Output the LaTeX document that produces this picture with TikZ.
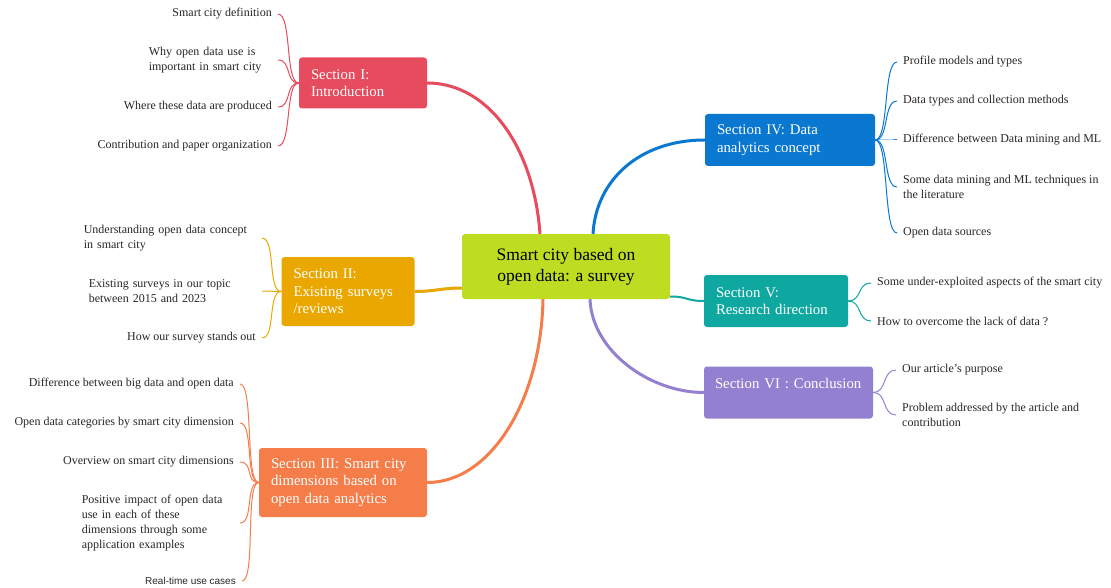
\documentclass[tikz,border=0pt]{standalone}
\usepackage{fontspec}
\setmainfont{Liberation Serif}
\newfontfamily\leafsans{Liberation Sans}

\definecolor{hubcolor}{HTML}{BEDD22}
\definecolor{introcolor}{HTML}{E64B5E}
\definecolor{surveycolor}{HTML}{E9A700}
\definecolor{dimcolor}{HTML}{F47D4A}
\definecolor{analyticscolor}{HTML}{0A77D0}
\definecolor{researchcolor}{HTML}{0FA8A0}
\definecolor{conclusioncolor}{HTML}{9480D1}

\begin{document}
\begin{tikzpicture}[x=1pt, y=-1pt,
  secbox/.style={fill=#1, rounded corners=3pt, text=white, align=left,
    font=\fontsize{14.8}{17.5}\selectfont, inner xsep=12pt, inner ysep=0pt},
  leaf/.style={text=black!85, font=\fontsize{12}{15}\selectfont,
    inner xsep=6pt, inner ysep=1pt, align=left},
  trunk/.style={draw=#1, line width=3pt},
  twig/.style={draw=#1, line width=1pt}]

  \useasboundingbox (0,0) rectangle (1111,588);

  % Central topic
  \node[fill=hubcolor, rounded corners=3pt, minimum width=208pt, minimum height=65pt,
    align=center, text=black, font=\fontsize{17.5}{21}\selectfont] (hub) at (566,266.5)
    {Smart city based on\\open data: a survey};

  % Section boxes
  \node[secbox=introcolor, text width=104pt, minimum height=51pt] (intro) at (363,83)
    {Section I:\\Introduction};
  \node[secbox=surveycolor, text width=109pt, minimum height=69pt] (survey) at (348,291.5)
    {Section II:\\Existing surveys\\/reviews};
  \node[secbox=dimcolor, text width=144pt, minimum height=69pt] (dim) at (343,482.5)
    {Section III: Smart city\\dimensions based on\\open data analytics};
  \node[secbox=analyticscolor, text width=146pt, minimum height=52pt] (analytics) at (790,140)
    {Section IV: Data\\analytics concept};
  \node[secbox=researchcolor, text width=120pt, minimum height=52pt] (research) at (776,301)
    {Section V:\\Research direction};
  \node[secbox=conclusioncolor, inner xsep=11pt, text width=147pt, minimum height=52pt] (conclusion) at (788.5,392.5)
    {Section VI : Conclusion\\\mbox{}};

  % Trunks from the central topic to each section
  \draw[trunk=introcolor] ([xshift=-26pt]hub.north) .. controls +(-6,-85) and +(62,0) .. (intro.east);
  \draw[trunk=surveycolor] ([yshift=-21.5pt]hub.west) .. controls +(-20,0) and +(20,0) .. (survey.east);
  \draw[trunk=dimcolor] ([xshift=-23pt]hub.south) .. controls +(-2,102) and +(63,0) .. (dim.east);
  \draw[trunk=analyticscolor] ([xshift=27pt]hub.north) .. controls +(3,-54) and +(-65,0) .. (analytics.west);
  \draw[trunk=researchcolor, line width=2pt] ([yshift=-30pt]hub.east) .. controls +(18,0) and +(-18,0) .. (research.west);
  \draw[trunk=conclusioncolor] ([xshift=24pt]hub.south) .. controls +(2,52) and +(-54,0) .. (conclusion.west);

  % Section I leaves
  \node[leaf, anchor=east] (intro1) at (278,14) {Smart city definition};
  \node[leaf, anchor=east, text width=123pt] (intro2) at (278,60) {Why open data use is\\important in smart city};
  \node[leaf, anchor=east] (intro3) at (278,107) {Where these data are produced};
  \node[leaf, anchor=east] (intro4) at (278,146) {Contribution and paper organization};

  % Section II leaves
  \node[leaf, anchor=east, text width=172pt] (survey1) at (262,238) {Understanding open data concept\\in smart city};
  \node[leaf, anchor=east, text width=167pt] (survey2) at (262,291) {Existing surveys in our topic\\between 2015 and 2023};
  \node[leaf, anchor=east] (survey3) at (262,338) {How our survey stands out};

  % Section III leaves
  \node[leaf, anchor=east] (dim1) at (240,384) {Difference between big data and open data};
  \node[leaf, anchor=east] (dim2) at (240,423) {Open data categories by smart city dimension};
  \node[leaf, anchor=east] (dim3) at (240,462) {Overview on smart city dimensions};
  \node[leaf, anchor=east, text width=152pt] (dim4) at (240,523)
    {Positive impact of open data\\use in each of these\\dimensions through some\\application examples};
  \node[leaf, anchor=east, font=\leafsans\fontsize{10}{12}\selectfont] (dim5) at (242,581) {Real-time use cases};

  % Section IV leaves
  \node[leaf, anchor=west] (analytics1) at (897,62) {Profile models and types};
  \node[leaf, anchor=west] (analytics2) at (897,101) {Data types and collection methods};
  \node[leaf, anchor=west] (analytics3) at (897,140) {Difference between Data mining and ML};
  \node[leaf, anchor=west] (analytics4) at (897,187) {Some data mining and ML techniques in\\the literature};
  \node[leaf, anchor=west] (analytics5) at (897,233) {Open data sources};

  % Section V leaves
  \node[leaf, anchor=west] (research1) at (871,283) {Some under-exploited aspects of the smart city};
  \node[leaf, anchor=west] (research2) at (871,321) {How to overcome the lack of data ?};

  % Section VI leaves
  \node[leaf, anchor=west] (conclusion1) at (896,370) {Our article's purpose};
  \node[leaf, anchor=west] (conclusion2) at (896,415) {Problem addressed by the article and\\contribution};

  % Twigs, left side
  \foreach \s/\c/\n in {intro/introcolor/4, survey/surveycolor/3, dim/dimcolor/5}
    \foreach \i in {1,...,\n}
      \draw[twig=\c] (\s.west) .. controls +(-14,0) and +(14,0) .. (\s\i.east);

  % Twigs, right side
  \foreach \s/\c/\n in {analytics/analyticscolor/5, research/researchcolor/2, conclusion/conclusioncolor/2}
    \foreach \i in {1,...,\n}
      \draw[twig=\c] (\s.east) .. controls +(14,0) and +(-14,0) .. (\s\i.west);

\end{tikzpicture}
\end{document}
